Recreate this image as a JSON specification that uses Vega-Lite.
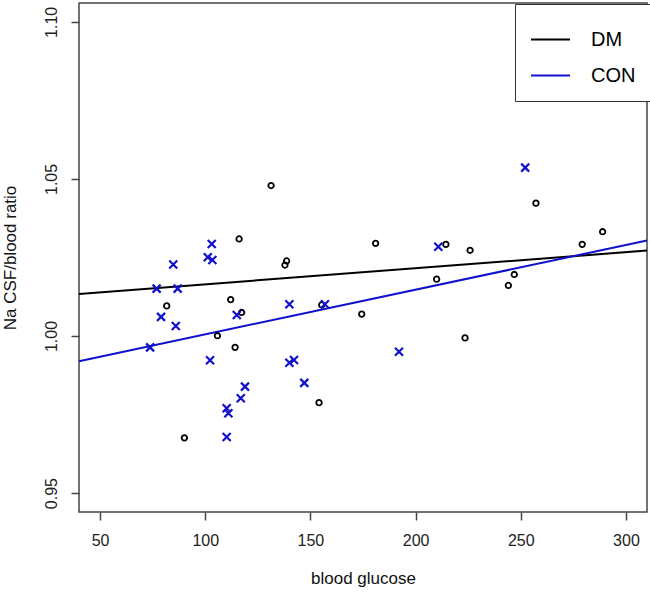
{
  "$schema": "https://vega.github.io/schema/vega-lite/v6.json",
  "width": 568,
  "height": 509,
  "autosize": "none",
  "padding": {"left": 79, "top": 3, "right": 3, "bottom": 81},
  "background": "white",
  "config": {
    "view": {"stroke": "#444444", "strokeWidth": 1.5},
    "font": "Liberation Sans",
    "axis": {
      "grid": false,
      "domain": false,
      "tickColor": "#444444",
      "tickWidth": 1.5,
      "tickSize": 8,
      "labelFont": "Liberation Sans",
      "labelFontSize": 16,
      "labelColor": "#222222",
      "titleFont": "Liberation Sans",
      "titleFontSize": 17,
      "titleFontWeight": "normal",
      "titleColor": "#111111"
    }
  },
  "datasets": {
    "pts": [
      {"group": "DM", "glucose": 81.7, "ratio": 1.0096},
      {"group": "DM", "glucose": 112.1, "ratio": 1.0116},
      {"group": "DM", "glucose": 116.1, "ratio": 1.0309},
      {"group": "DM", "glucose": 117.3, "ratio": 1.0075},
      {"group": "DM", "glucose": 105.8, "ratio": 1.0001},
      {"group": "DM", "glucose": 114.2, "ratio": 0.9964},
      {"group": "DM", "glucose": 90.1, "ratio": 0.9676},
      {"group": "DM", "glucose": 131.3, "ratio": 1.0479},
      {"group": "DM", "glucose": 138.7, "ratio": 1.0239},
      {"group": "DM", "glucose": 137.9, "ratio": 1.0226},
      {"group": "DM", "glucose": 155.4, "ratio": 1.0099},
      {"group": "DM", "glucose": 174.4, "ratio": 1.007},
      {"group": "DM", "glucose": 154.1, "ratio": 0.9788},
      {"group": "DM", "glucose": 181.0, "ratio": 1.0295},
      {"group": "DM", "glucose": 214.4, "ratio": 1.0292},
      {"group": "DM", "glucose": 210.0, "ratio": 1.0181},
      {"group": "DM", "glucose": 225.9, "ratio": 1.0273},
      {"group": "DM", "glucose": 257.2, "ratio": 1.0423},
      {"group": "DM", "glucose": 279.2, "ratio": 1.0292},
      {"group": "DM", "glucose": 288.9, "ratio": 1.0332},
      {"group": "DM", "glucose": 246.9, "ratio": 1.0196},
      {"group": "DM", "glucose": 244.1, "ratio": 1.0161},
      {"group": "DM", "glucose": 223.5, "ratio": 0.9994},
      {"group": "CON", "glucose": 103.1, "ratio": 1.0293},
      {"group": "CON", "glucose": 84.8, "ratio": 1.0228},
      {"group": "CON", "glucose": 101.2, "ratio": 1.0251},
      {"group": "CON", "glucose": 103.4, "ratio": 1.0242},
      {"group": "CON", "glucose": 76.9, "ratio": 1.0151},
      {"group": "CON", "glucose": 86.9, "ratio": 1.0151},
      {"group": "CON", "glucose": 79.0, "ratio": 1.0061},
      {"group": "CON", "glucose": 86.0, "ratio": 1.0032},
      {"group": "CON", "glucose": 115.0, "ratio": 1.0067},
      {"group": "CON", "glucose": 73.8, "ratio": 0.9964},
      {"group": "CON", "glucose": 102.3, "ratio": 0.9923},
      {"group": "CON", "glucose": 116.9, "ratio": 0.9802},
      {"group": "CON", "glucose": 110.2, "ratio": 0.977},
      {"group": "CON", "glucose": 111.0, "ratio": 0.9754},
      {"group": "CON", "glucose": 110.2, "ratio": 0.9679},
      {"group": "CON", "glucose": 140.0, "ratio": 1.0101},
      {"group": "CON", "glucose": 156.9, "ratio": 1.0101},
      {"group": "CON", "glucose": 192.1, "ratio": 0.995},
      {"group": "CON", "glucose": 140.0, "ratio": 0.9915},
      {"group": "CON", "glucose": 142.2, "ratio": 0.9924},
      {"group": "CON", "glucose": 147.1, "ratio": 0.9851},
      {"group": "CON", "glucose": 118.9, "ratio": 0.9839},
      {"group": "CON", "glucose": 210.8, "ratio": 1.0284},
      {"group": "CON", "glucose": 252.1, "ratio": 1.0536}
    ],
    "fit": [
      {"group": "DM", "glucose": 40, "ratio": 1.0134},
      {"group": "DM", "glucose": 310, "ratio": 1.0272},
      {"group": "CON", "glucose": 40, "ratio": 0.992},
      {"group": "CON", "glucose": 310, "ratio": 1.0304}
    ]
  },
  "layer": [
    {
      "data": {"name": "fit"},
      "mark": {"type": "line", "strokeWidth": 2},
      "encoding": {
        "x": {
          "field": "glucose",
          "type": "quantitative",
          "scale": {"domain": [40, 310], "nice": false, "zero": false},
          "axis": {
            "title": "blood glucose",
            "values": [50, 100, 150, 200, 250, 300],
            "labelPadding": 12,
            "titleY": 66,
            "titleBaseline": "middle"
          }
        },
        "y": {
          "field": "ratio",
          "type": "quantitative",
          "scale": {"domain": [0.944, 1.106], "nice": false, "zero": false},
          "axis": {
            "title": "Na CSF/blood ratio",
            "values": [0.95, 1.0, 1.05, 1.1],
            "format": ".2f",
            "labelAngle": 270,
            "labelAlign": "center",
            "labelBaseline": "bottom",
            "labelPadding": 12,
            "titleX": -69,
            "titleBaseline": "middle"
          }
        },
        "color": {
          "field": "group",
          "type": "nominal",
          "scale": {"domain": ["DM", "CON"], "range": ["#000000", "#1111cc"]},
          "legend": {
            "title": null,
            "orient": "none",
            "legendX": 436,
            "legendY": 1,
            "symbolType": "stroke",
            "symbolSize": 1521,
            "symbolStrokeWidth": 2,
            "labelFont": "Liberation Sans",
            "labelFontSize": 20,
            "labelColor": "#000000",
            "labelOffset": 20,
            "padding": 15,
            "rowPadding": 5,
            "strokeColor": "#333333",
            "fillColor": "white"
          }
        }
      }
    },
    {
      "data": {"name": "pts"},
      "transform": [{"filter": "datum.group === 'DM'"}],
      "mark": {"type": "point", "shape": "circle", "size": 30, "strokeWidth": 1.8, "filled": false, "color": "#000000", "opacity": 1},
      "encoding": {
        "x": {"field": "glucose", "type": "quantitative"},
        "y": {"field": "ratio", "type": "quantitative"}
      }
    },
    {
      "data": {"name": "pts"},
      "transform": [{"filter": "datum.group === 'CON'"}],
      "mark": {"type": "point", "shape": "M-1,-1L1,1M1,-1L-1,1", "size": 64, "strokeWidth": 2.2, "filled": false, "color": "#1111cc", "opacity": 1},
      "encoding": {
        "x": {"field": "glucose", "type": "quantitative"},
        "y": {"field": "ratio", "type": "quantitative"}
      }
    }
  ]
}
